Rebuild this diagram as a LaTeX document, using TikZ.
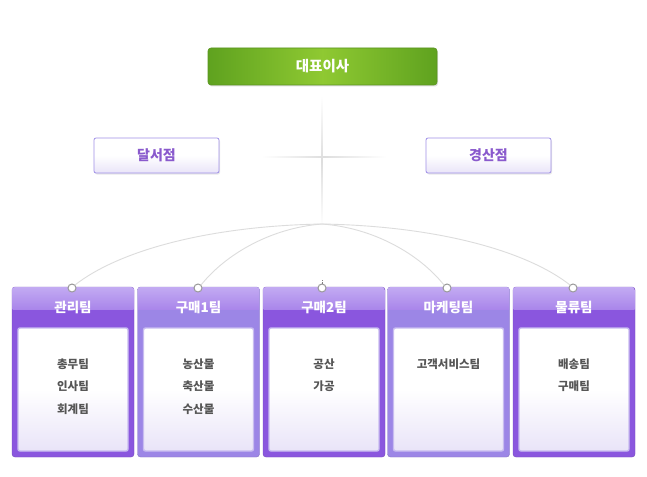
\documentclass[tikz,border=0pt]{standalone}
\usepackage{fontspec}
\newfontfamily\kr{Noto Sans CJK KR}
\usetikzlibrary{shadows}
\definecolor{gA}{HTML}{5FA21F}
\definecolor{gB}{HTML}{8FC932}
\definecolor{gEdge}{HTML}{5A9420}
\definecolor{pEdge}{HTML}{A090E8}
\definecolor{pText}{HTML}{8A5ACD}
\definecolor{pLow}{HTML}{E9E4F8}
\definecolor{bodyA}{HTML}{8A56DE}
\definecolor{bodyB}{HTML}{9C86E6}
\definecolor{headTop}{HTML}{C2AAF2}
\definecolor{headBot}{HTML}{A985EA}
\definecolor{innerEdge}{HTML}{C8BCF0}
\definecolor{grayText}{HTML}{555555}
\definecolor{lineC}{HTML}{DCDCDC}
\tikzset{
  ceobox/.style={rounded corners=3pt, draw=gEdge, line width=0.6pt,
    left color=gA, right color=gA, middle color=gB,
    minimum width=229pt, minimum height=37pt,
    drop shadow={shadow xshift=1pt, shadow yshift=-1.5pt, opacity=0.25},
    font=\kr\bfseries\fontsize{14.5}{16}\selectfont, text=white},
  branchbox/.style={rounded corners=2pt, draw=pEdge, line width=0.8pt,
    top color=white, bottom color=pLow, middle color=white,
    minimum width=125pt, minimum height=35pt,
    drop shadow={shadow xshift=1pt, shadow yshift=-1.5pt, opacity=0.18},
    font=\kr\bfseries\fontsize{14}{16}\selectfont, text=pText},
  teambox/.style={rounded corners=3pt, fill=#1, draw=#1!85!black,
    line width=0.4pt, minimum width=122pt, minimum height=170pt},
  headband/.style={top color=headTop, bottom color=headBot,
    minimum width=121pt, minimum height=22pt, inner sep=0pt},
  teamtitle/.style={font=\kr\bfseries\fontsize{13.5}{15}\selectfont, text=white},
  innerbox/.style={rounded corners=2pt, draw=innerEdge, line width=1.4pt,
    top color=white, bottom color=pLow, middle color=white,
    minimum width=110pt, minimum height=123pt},
  members/.style={font=\kr\bfseries\fontsize{11.5}{22.5}\selectfont,
    text=grayText, align=center, anchor=north},
  ring/.style={circle, draw=gray!80, fill=white, line width=1pt,
    minimum size=8pt, inner sep=0pt},
  arc/.style={draw=lineC, line width=0.9pt}
}
\begin{document}
\begin{tikzpicture}[x=1pt,y=-1pt]
\useasboundingbox[fill=white] (0,0) rectangle (647,476);

% cross lines (fading)
\shade[top color=white, bottom color=white, middle color=black!13]
  (321.5,96) rectangle (322.7,226);
\shade[left color=white, right color=white, middle color=black!13]
  (262,156.4) rectangle (386,157.6);

% hub
\coordinate (hub) at (322,224);

% ceo
\node[ceobox] (ceo) at (322.5,66.5) {대표이사};

% branches
\node[branchbox] (dal) at (156.5,155.5) {달서점};
\node[branchbox] (gyeong) at (488.5,155.5) {경산점};

% team boxes
\foreach \n/\x/\c/\t in {t1/73/bodyA/관리팀, t2/198.5/bodyB/구매1팀,
    t3/324/bodyA/구매2팀, t4/448.5/bodyB/마케팅팀, t5/574/bodyA/물류팀}{
  \node[teambox=\c] (\n) at (\x,372) {};
  \begin{scope}
    \clip[rounded corners=3pt] (\x-61,287) rectangle (\x+61,457);
    \node[headband] (\n h) at (\x,298.5) {};
  \end{scope}
  \node[teamtitle] (\n title) at (\x,307) {\t};
  \node[innerbox] (\n in) at (\x,389.5) {};
}

% members
\node[members] (m1) at (73,355) {총무팀\\인사팀\\회계팀};
\node[members] (m2) at (198.5,355) {농산물\\축산물\\수산물};
\node[members] (m3) at (324,355) {공산\\가공};
\node[members] (m4) at (448.5,355) {고객서비스팀};
\node[members] (m5) at (574,355) {배송팀\\구매팀};

% rings
\node[ring] (r1) at (72,288) {};
\node[ring] (r2) at (198,288) {};
\node[ring] (r3) at (322,288) {};
\node[ring] (r4) at (447,288) {};
\node[ring] (r5) at (573,288) {};

% arcs
\path[arc] (r1.north east) .. controls (120,250) and (210,226) .. (hub);
\path[arc] (r2.north east) .. controls (225,255) and (270,228) .. (hub);
\path[arc] (r4.north west) .. controls (420,255) and (375,228) .. (hub);
\path[arc] (r5.north west) .. controls (525,250) and (435,226) .. (hub);
\draw[draw=gray, densely dotted, line width=0.5pt] (r3.north) -- ++(0,-4);
\end{tikzpicture}
\end{document}
